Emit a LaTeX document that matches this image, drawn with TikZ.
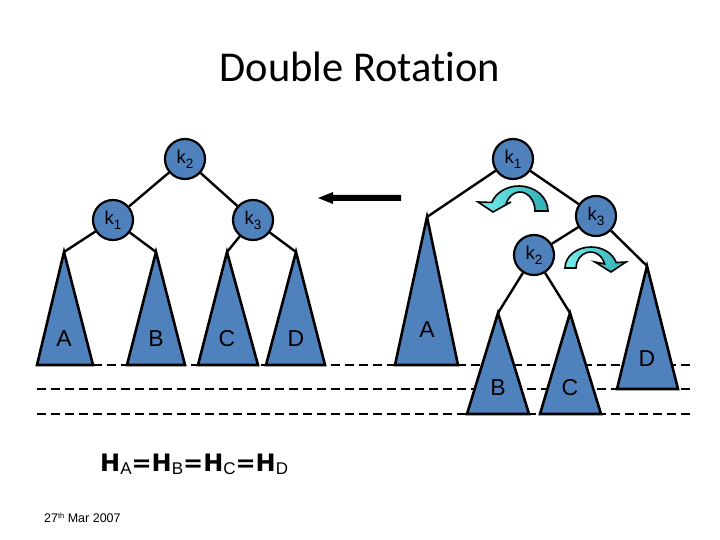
\documentclass[tikz,border=0pt]{standalone}
\usepackage{fontspec}
\setmainfont{Liberation Sans}
\newfontfamily\titlefont[Ligatures={NoCommon}]{Carlito}
\newfontfamily\hfont{DejaVu Sans}
\definecolor{triblue}{RGB}{79,129,189}
\definecolor{cyanL}{RGB}{120,238,238}
\definecolor{cyanR}{RGB}{45,175,180}
\newcommand\kk[1]{\fontsize{18.5}{18.5}\selectfont k\raisebox{-5pt}{\fontsize{13.5}{13.5}\selectfont #1}}
\newcommand\hsub[1]{\raisebox{-3pt}{\mdseries\rmfamily\fontsize{17}{17}\selectfont #1}}
\tikzset{
  keynode/.style={circle, draw=black, line width=2.2pt, fill=triblue, minimum size=40pt, inner sep=0pt},
  edge/.style={line width=2.4pt, black},
  tri/.style={draw=black, line width=2.6pt, fill=triblue, line join=miter},
  trilabel/.style={font=\fontsize{23}{23}\selectfont},
  level/.style={line width=2.4pt, dash pattern=on 9pt off 5pt},
  rotarrow/.style={draw=black, line width=1.6pt, left color=cyanL, right color=cyanR, line join=miter}
}
\begin{document}
\begin{tikzpicture}[x=1pt,y=-1pt]
\useasboundingbox (0,0) rectangle (720,540);
% title
\node[anchor=base, font=\titlefont\fontsize{42.5}{42.5}\selectfont] (title) at (360,82) {Double Rotation};

% level lines
\coordinate (d1s) at (37,365); \coordinate (d1e) at (690,365);
\coordinate (d2s) at (37,389); \coordinate (d2e) at (690,389);
\coordinate (d3s) at (37,414); \coordinate (d3e) at (690,414);
\draw[level] (d1s) -- (d1e);
\draw[level] (d2s) -- (d2e);
\draw[level] (d3s) -- (d3e);

% ---------- left tree ----------
\coordinate (LAtop) at (64,252);
\coordinate (LBtop) at (156,252);
\coordinate (LCtop) at (227,252);
\coordinate (LDtop) at (296,252);
\draw[tri] (LAtop) -- (93,365) -- (37,365) -- cycle;
\draw[tri] (LBtop) -- (185,365) -- (127,365) -- cycle;
\draw[tri] (LCtop) -- (258,365) -- (198,365) -- cycle;
\draw[tri] (LDtop) -- (325,365) -- (266,365) -- cycle;
\node[trilabel] (LAl) at (64,339) {A};
\node[trilabel] (LBl) at (156,339) {B};
\node[trilabel] (LCl) at (227,339) {C};
\node[trilabel] (LDl) at (296,339) {D};

\node[keynode] (L2) at (185,159) {\kk2};
\node[keynode] (L1) at (113,220) {\kk1};
\node[keynode] (L3) at (253,220) {\kk3};
\draw[edge] (L2) -- (L1);
\draw[edge] (L2) -- (L3);
\draw[edge] (L1) -- (LAtop);
\draw[edge] (L1) -- (LBtop);
\draw[edge] (L3) -- (LCtop);
\draw[edge] (L3) -- (LDtop);

% ---------- arrow ----------
\fill[black] (401,195) -- (333,195) -- (333,192) -- (318,198) -- (333,204) -- (333,201) -- (401,201) -- cycle;

% ---------- right tree ----------
\coordinate (RAtop) at (427,217);
\coordinate (RBtop) at (498,313);
\coordinate (RCtop) at (570,313);
\coordinate (RDtop) at (647,266);
\draw[tri] (RAtop) -- (458,365) -- (395,365) -- cycle;
\draw[tri] (RBtop) -- (529,414) -- (467,414) -- cycle;
\draw[tri] (RCtop) -- (601,414) -- (540,414) -- cycle;
\draw[tri] (RDtop) -- (678,389) -- (617,389) -- cycle;
\node[trilabel] (RAl) at (427,330) {A};
\node[trilabel] (RBl) at (498,388) {B};
\node[trilabel] (RCl) at (570,388) {C};
\node[trilabel] (RDl) at (647,359) {D};

\node[keynode] (R1) at (513,159) {\kk1};
\node[keynode] (R3) at (596,216) {\kk3};
\node[keynode] (R2) at (534,255) {\kk2};
\draw[edge] (R1) -- (RAtop);
\draw[edge] (R1) -- (R3);
\draw[edge] (R3) -- (R2);
\draw[edge] (R3) -- (RDtop);
\draw[edge] (R2) -- (RBtop);
\draw[edge] (R2) -- (RCtop);

% rotation arrows
\draw[rotarrow] (548,211) arc[start angle=0, end angle=-160, x radius=29, y radius=25]
  -- (478,202) -- (493,212) -- (511,202) -- (505.9,204.5)
  arc[start angle=-160, end angle=0, x radius=15, y radius=19] -- cycle;
\draw[rotarrow] (565,268) arc[start angle=180, end angle=345, x radius=26, y radius=21]
  -- (626,262) -- (611,272) -- (595,262) -- (604.5,263.9)
  arc[start angle=345, end angle=180, x radius=14.5, y radius=16] -- cycle;

% height equation
\node[anchor=base west, inner sep=0pt] (heq) at (100,471)
  {\hfont\bfseries\fontsize{24}{24}\selectfont H\hsub{A}=H\hsub{B}=H\hsub{C}=H\hsub{D}};

% date
\node[anchor=base west, inner sep=0pt, font=\fontsize{12.5}{12.5}\selectfont] (date) at (44,522)
  {27\raisebox{3.5pt}{\fontsize{7.5}{7.5}\selectfont th} Mar 2007};
\end{tikzpicture}
\end{document}
